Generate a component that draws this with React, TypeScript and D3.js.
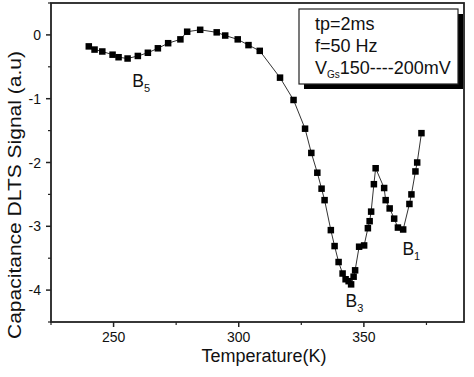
import React from 'react';
import * as d3 from 'd3';

const temperature = [
  240.1, 242.4, 245.5, 249.6, 252.0, 255.6, 259.7, 263.7, 267.7, 271.8,
  276.7, 279.4, 284.6, 291.2, 294.6, 299.6, 303.9, 308.4, 316.5, 321.9,
  326.5, 329.0, 331.4, 333.1, 334.3, 336.8, 338.3, 339.9, 341.5, 342.7,
  343.9, 344.9, 345.9, 346.5, 348.1, 350.1, 351.6, 352.3, 352.9, 354.0,
  354.7, 358.1, 358.7, 360.3, 362.1, 363.6, 365.7, 368.2, 369.0, 370.6,
  371.3, 373.0,
];
const signal = [
  -0.18, -0.23, -0.26, -0.31, -0.35, -0.37, -0.33, -0.28, -0.21, -0.13,
  -0.07, 0.05, 0.08, 0.04, -0.01, -0.07, -0.16, -0.25, -0.67, -1.02,
  -1.47, -1.85, -2.16, -2.41, -2.59, -3.06, -3.31, -3.56, -3.74, -3.83,
  -3.86, -3.91, -3.79, -3.69, -3.32, -3.30, -3.03, -2.92, -2.77, -2.34,
  -2.09, -2.40, -2.59, -2.72, -2.88, -3.02, -3.05, -2.65, -2.50, -2.14,
  -2.00, -1.54,
];
const xMajorTicks = [250, 300, 350];
const xMinorTicks = [225, 275, 325, 375];
const yMajorTicks = [0, -1, -2, -3, -4];
const yMinorTicks = [0.5, -0.5, -1.5, -2.5, -3.5, -4.5];
const peakLabels = [
  { name: 'B', sub: '5', t: 257.5, v: -0.82 },
  { name: 'B', sub: '3', t: 342.7, v: -4.26 },
  { name: 'B', sub: '1', t: 365.4, v: -3.45 },
];
const legendLines = ['tp=2ms', 'f=50 Hz'];

const W = 474;
const H = 377;
const M = { left: 51, right: 10, top: 3, bottom: 55 };
const FONT = "'Liberation Sans', Arial, sans-serif";

export default function App() {
  const x = d3.scaleLinear().domain([225, 390]).range([M.left, W - M.right]);
  const y = d3.scaleLinear().domain([-4.5, 0.5]).range([H - M.bottom, M.top]);
  const data = temperature.map((t, i) => [t, signal[i]] as [number, number]);
  const line = d3
    .line<[number, number]>()
    .x((d) => x(d[0]))
    .y((d) => y(d[1]));
  const x0 = M.left;
  const x1 = W - M.right;
  const y0 = H - M.bottom;
  const y1 = M.top;
  const ms = 6.5;
  const stroke = '#222';

  const lx = 299;
  const ly = 9;
  const lw = 159;
  const lh = 75;

  return (
    <svg
      width={W}
      height={H}
      style={{ position: 'absolute', left: 0, top: 0, background: '#fff' }}
      fontFamily={FONT}
    >
      <rect x={0} y={0} width={W} height={H} fill="#fff" />
      <path d={line(data) || ''} fill="none" stroke="#333" strokeWidth={1} />
      {data.map((d, i) => (
        <rect
          key={i}
          x={x(d[0]) - ms / 2}
          y={y(d[1]) - ms / 2}
          width={ms}
          height={ms}
          fill="#000"
        />
      ))}
      <rect
        x={x0}
        y={y1}
        width={x1 - x0}
        height={y0 - y1}
        fill="none"
        stroke={stroke}
        strokeWidth={1.8}
      />
      {xMajorTicks.map((t) => (
        <g key={'xm' + t}>
          <line x1={x(t)} x2={x(t)} y1={y0} y2={y0 + 5} stroke={stroke} strokeWidth={1.5} />
          <text x={x(t)} y={342} textAnchor="middle" fontSize={14} fill="#111">
            {t}
          </text>
        </g>
      ))}
      {xMinorTicks.map((t) => (
        <line key={'xn' + t} x1={x(t)} x2={x(t)} y1={y0} y2={y0 + 3} stroke={stroke} strokeWidth={1.2} />
      ))}
      {yMajorTicks.map((v) => (
        <g key={'ym' + v}>
          <line x1={x0 - 5} x2={x0} y1={y(v)} y2={y(v)} stroke={stroke} strokeWidth={1.5} />
          <text x={41} y={y(v) + 5} textAnchor="end" fontSize={14} fill="#111">
            {String(v)}
          </text>
        </g>
      ))}
      {yMinorTicks.map((v) => (
        <line key={'yn' + v} x1={x0 - 3} x2={x0} y1={y(v)} y2={y(v)} stroke={stroke} strokeWidth={1.2} />
      ))}
      <text x={264} y={362} textAnchor="middle" fontSize={18} fill="#111">
        Temperature(K)
      </text>
      <text
        transform={`translate(21, 195) rotate(-90)`}
        textAnchor="middle"
        fontSize={18.5}
        textLength={288}
        lengthAdjust="spacingAndGlyphs"
        fill="#111"
      >
        Capacitance DLTS Signal (a.u)
      </text>
      {peakLabels.map((p, i) => (
        <text key={'pk' + i} x={x(p.t)} y={y(p.v)} fontSize={17.5} fill="#111">
          {p.name}
          <tspan fontSize={11} dy={5}>
            {p.sub}
          </tspan>
        </text>
      ))}
      <rect x={lx + 5} y={ly + 5} width={lw} height={lh} fill="#000" />
      <rect x={lx} y={ly} width={lw} height={lh} fill="#fff" stroke="#222" strokeWidth={1.2} />
      {legendLines.map((s, i) => (
        <text key={'lg' + i} x={lx + 16} y={ly + 21 + i * 22} fontSize={18} fill="#111">
          {s}
        </text>
      ))}
      <text x={lx + 16} y={ly + 65} fontSize={18} fill="#111">
        V
        <tspan fontSize={10} dy={4}>
          Gs
        </tspan>
        <tspan dy={-4}>150----200mV</tspan>
      </text>
    </svg>
  );
}
